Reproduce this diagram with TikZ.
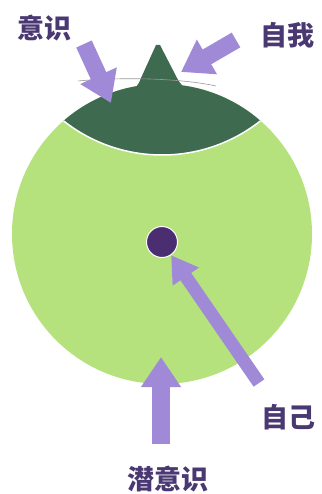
\documentclass[tikz,border=0pt]{standalone}
\usepackage{fontspec}
\newfontfamily\cjk{Noto Sans CJK SC}
\usetikzlibrary{arrows.meta}
\definecolor{bodygreen}{HTML}{B6E27E}
\definecolor{capgreen}{HTML}{3E6A50}
\definecolor{arrowlilac}{HTML}{A08AD8}
\definecolor{dotpurple}{HTML}{4B2D72}
\definecolor{labelpurple}{HTML}{4A3872}

\begin{document}
\begin{tikzpicture}[
  x=1pt, y=-1pt,
  lbl/.style={font=\cjk\bfseries\fontsize{27}{27}\selectfont, text=labelpurple, inner sep=0pt},
  fat/.style={draw=arrowlilac, line width=18pt, -{Triangle[width=38pt,length=30pt]}},
  dot/.style={circle, fill=dotpurple, draw=white, line width=1pt, minimum size=31pt, inner sep=0pt}
]
\useasboundingbox[fill=white] (0,0) rectangle (321,494);

\fill[bodygreen] (162,234) circle (150pt);
\begin{scope}
  \clip (162,234) circle (150pt);
  \fill[capgreen] (162,-4) circle (159pt);
  \draw[white, line width=1.5pt] (162,-4) circle (159pt);
\end{scope}
\fill[capgreen] (156,45) -- (160,45) -- (177,78) .. controls (180,84) and (184,88) .. (190,92)
  -- (130,92) .. controls (136,88) and (139,84) .. (141,78) -- cycle;
\draw[black!40, line width=0.6pt] (78,81) .. controls (120,77) and (180,78) .. (216,86);

\node[dot] (self) at (162,242) {};

\node[lbl] (conscious) at (44,28) {意识};
\node[lbl] (ego) at (287,35) {自我};
\node[lbl] (selfLbl) at (288,417) {自己};
\node[lbl] (subcon) at (168,479) {潜意识};

\coordinate (consTail) at (84,44);
\coordinate (consTip) at (111,103);
\coordinate (egoTail) at (236,40);
\coordinate (egoTip) at (181,72);
\coordinate (selfTail) at (259,383);
\coordinate (subTail) at (161,444);
\coordinate (subTip) at (161,357);

\draw[fat, line width=17pt] (consTail) -- (consTip);
\draw[fat, line width=17pt] (egoTail) -- (egoTip);
\draw[fat, line width=13pt, -{Triangle[width=30pt,length=26pt]}] (selfTail) -- (self);
\draw[fat] (subTail) -- (subTip);

\end{tikzpicture}
\end{document}
